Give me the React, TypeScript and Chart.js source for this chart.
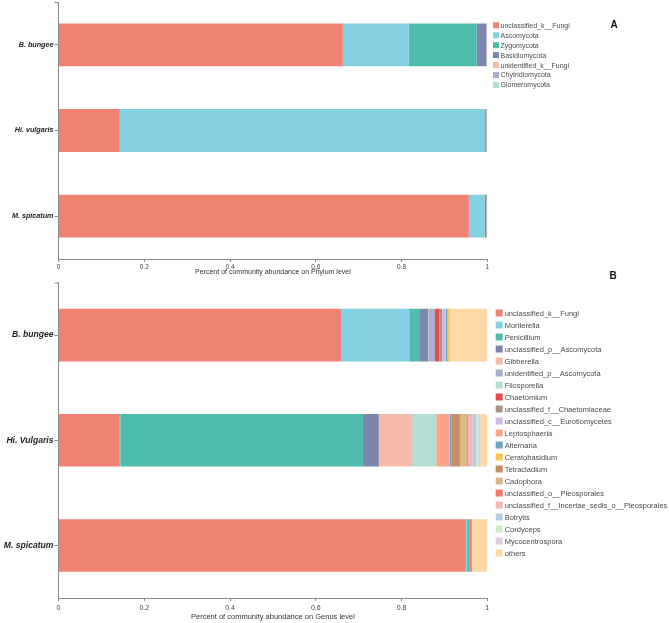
import React, { useEffect, useRef } from "react";
import { Chart, registerables } from "chart.js";

Chart.register(...registerables);

const FONT = "Arial, 'Liberation Sans', sans-serif";
const AXIS_COLOR = "#8a8a8a";

// ---------- Panel A: phylum level ----------
const samplesA = ["B. bungee", "Hi. vulgaris", "M. spicatum"];
const phylumNames = [
  "unclassified_k__Fungi",
  "Ascomycota",
  "Zygomycota",
  "Basidiomycota",
  "unidentified_k__Fungi",
  "Chytridiomycota",
  "Glomeromycota",
];
const phylumColors = ["#EF8272", "#84D0E3", "#4DBCAA", "#7A86AC", "#F6BBA8", "#A8AECD", "#B2DFD4"];
const phylumBbungee = [0.663, 0.154, 0.158, 0.023, 0.001, 0.001, 0.0];
const phylumHiVulgaris = [0.143, 0.852, 0.0, 0.003, 0.001, 0.001, 0.0];
const phylumMspicatum = [0.957, 0.037, 0.0, 0.004, 0.001, 0.001, 0.0];
const xTitleA = "Percent of community abundance on Phylum level";

// ---------- Panel B: genus level ----------
const samplesB = ["B. bungee", "Hi. Vulgaris", "M. spicatum"];
const genusNames = [
  "unclassified_k__Fungi",
  "Mortierella",
  "Penicillium",
  "unclassified_p__Ascomycota",
  "Gibberella",
  "unidentified_p__Ascomycota",
  "Filosporella",
  "Chaetomium",
  "unclassified_f__Chaetomiaceae",
  "unclassified_c__Eurotiomycetes",
  "Leptosphaeria",
  "Alternaria",
  "Ceratobasidium",
  "Tetracladium",
  "Cadophora",
  "unclassified_o__Pleosporales",
  "unclassified_f__Incertae_sedis_o__Pleosporales",
  "Botrytis",
  "Cordyceps",
  "Mycocentrospora",
  "others",
];
const genusColors = [
  "#EF8272", "#84D0E3", "#4DBCAA", "#7A86AC", "#F6BBA8", "#A8AECD", "#B2DFD4",
  "#E64B4B", "#A89484", "#CDB9E6", "#FBA487", "#6FA5C6", "#FDC54E", "#C98B66",
  "#DDB887", "#F4786A", "#F8B7B3", "#B4CDE6", "#CDEBC6", "#DECAE4", "#FED9A6",
];
const genusBbungee = [
  0.659, 0.159, 0.025, 0.019, 0.001, 0.015, 0.0, 0.010, 0.007, 0.008, 0.0,
  0.004, 0.005, 0.0, 0.0, 0.001, 0.0, 0.0, 0.0, 0.0, 0.087,
];
const genusHiVulgaris = [
  0.143, 0.001, 0.566, 0.037, 0.078, 0.001, 0.055, 0.0, 0.0, 0.0, 0.031,
  0.005, 0.0, 0.019, 0.017, 0.002, 0.010, 0.009, 0.005, 0.005, 0.016,
];
const genusMspicatum = [
  0.950, 0.003, 0.006, 0.0, 0.0, 0.0, 0.0, 0.001, 0.0, 0.0, 0.0,
  0.0, 0.0, 0.0, 0.0, 0.004, 0.0, 0.0, 0.0, 0.0, 0.036,
];
const xTitleB = "Percent of community abundance on Genus level";

const xTicks = [0, 0.2, 0.4, 0.6, 0.8, 1];

const decorPlugin = {
  id: "decor",
  afterDraw(chart: any, _args: any, opts: any) {
    const { ctx, chartArea } = chart;
    ctx.save();
    // legend
    ctx.font = `${opts.legendFont}px ${FONT}`;
    ctx.textBaseline = "middle";
    ctx.textAlign = "left";
    chart.data.datasets.forEach((d: any, i: number) => {
      const y = opts.legendY + i * opts.legendDy;
      ctx.fillStyle = d.backgroundColor;
      ctx.fillRect(opts.legendX, y - opts.box / 2, opts.box, opts.box);
      ctx.fillStyle = "#4a4a4a";
      ctx.fillText(d.label, opts.legendX + opts.box + opts.gap, y + 0.5);
    });
    // panel letter
    ctx.font = `bold ${opts.letterSize}px ${FONT}`;
    ctx.fillStyle = "#111";
    ctx.textAlign = "center";
    ctx.fillText(opts.letter, opts.letterX, opts.letterY);
    // outer tick at top of y axis
    ctx.strokeStyle = AXIS_COLOR;
    ctx.lineWidth = 1;
    ctx.beginPath();
    ctx.moveTo(chartArea.left - 4, chartArea.top + 0.5);
    ctx.lineTo(chartArea.left, chartArea.top + 0.5);
    ctx.stroke();
    ctx.restore();
  },
};

function buildDatasets(names: string[], colors: string[], rows: number[][]) {
  return names.map((name, i) => ({
    label: name,
    data: rows.map((r) => r[i]),
    backgroundColor: colors[i],
    borderWidth: 0,
    barPercentage: 0.5,
    categoryPercentage: 1,
  }));
}

function makeConfig(p: any) {
  return {
    type: "bar",
    data: { labels: p.labels, datasets: p.datasets },
    plugins: [decorPlugin],
    options: {
      indexAxis: "y",
      animation: false,
      responsive: false,
      events: [],
      layout: { padding: { top: p.top, right: p.right, left: 0, bottom: 0 } },
      plugins: {
        legend: { display: false },
        tooltip: { enabled: false },
        decor: p.decor,
      },
      scales: {
        x: {
          stacked: true,
          min: 0,
          max: 1,
          afterBuildTicks: (s: any) => {
            s.ticks = xTicks.map((v) => ({ value: v }));
          },
          afterFit: (s: any) => {
            s.height = p.xHeight;
          },
          grid: { display: true, drawOnChartArea: false, tickLength: 3, color: AXIS_COLOR, tickColor: AXIS_COLOR },
          border: { display: true, color: AXIS_COLOR, width: 1 },
          ticks: {
            padding: p.xTickPad,
            color: "#444",
            font: { family: FONT, size: p.xTickFont },
            callback: (v: any) => String(+Number(v).toFixed(1)),
          },
          title: {
            display: true,
            text: p.xTitle,
            color: "#333",
            font: { family: FONT, size: p.xTitleFont },
            padding: { top: 0, bottom: p.xTitlePad },
          },
        },
        y: {
          stacked: true,
          afterFit: (s: any) => {
            s.width = 58.5;
            s.paddingTop = 0;
            s.paddingBottom = 0;
          },
          grid: { display: true, drawOnChartArea: false, offset: false, tickLength: 4, color: AXIS_COLOR, tickColor: AXIS_COLOR },
          border: { display: true, color: AXIS_COLOR, width: 1 },
          ticks: {
            padding: 1,
            color: "#222",
            font: { family: FONT, size: p.yTickFont, style: "italic", weight: "bold" },
          },
        },
      },
    },
  };
}

export default function App() {
  const refA = useRef<HTMLCanvasElement>(null);
  const refB = useRef<HTMLCanvasElement>(null);

  useEffect(() => {
    const chartA = new Chart(
      refA.current as HTMLCanvasElement,
      makeConfig({
        labels: samplesA,
        datasets: buildDatasets(phylumNames, phylumColors, [phylumBbungee, phylumHiVulgaris, phylumMspicatum]),
        top: 2,
        right: 669 - 487.3,
        xHeight: 21,
        xTickPad: 1,
        xTickFont: 6.5,
        xTitle: xTitleA,
        xTitleFont: 7,
        xTitlePad: 3.5,
        yTickFont: 7.2,
        decor: {
          legendX: 493,
          legendY: 25.3,
          legendDy: 9.95,
          box: 6,
          gap: 1.5,
          legendFont: 7,
          letter: "A",
          letterX: 614,
          letterY: 25.5,
          letterSize: 10,
        },
      }) as any
    );
    const chartB = new Chart(
      refB.current as HTMLCanvasElement,
      makeConfig({
        labels: samplesB,
        datasets: buildDatasets(genusNames, genusColors, [genusBbungee, genusHiVulgaris, genusMspicatum]),
        top: 12.5,
        right: 669 - 487.3,
        xHeight: 25,
        xTickPad: 2.8,
        xTickFont: 7,
        xTitle: xTitleB,
        xTitleFont: 7.5,
        xTitlePad: 1.5,
        yTickFont: 8.6,
        decor: {
          legendX: 495.7,
          legendY: 313 - 270,
          legendDy: 12,
          box: 7,
          gap: 2,
          legendFont: 7.5,
          letter: "B",
          letterX: 613,
          letterY: 6,
          letterSize: 10,
        },
      }) as any
    );
    return () => {
      chartA.destroy();
      chartB.destroy();
    };
  }, []);

  return (
    <div style={{ position: "absolute", left: 0, top: 0, width: 669, height: 623, background: "#fff" }}>
      <canvas ref={refA} width={669} height={280} style={{ position: "absolute", left: 0, top: 0 }} />
      <canvas ref={refB} width={669} height={353} style={{ position: "absolute", left: 0, top: 270 }} />
    </div>
  );
}
